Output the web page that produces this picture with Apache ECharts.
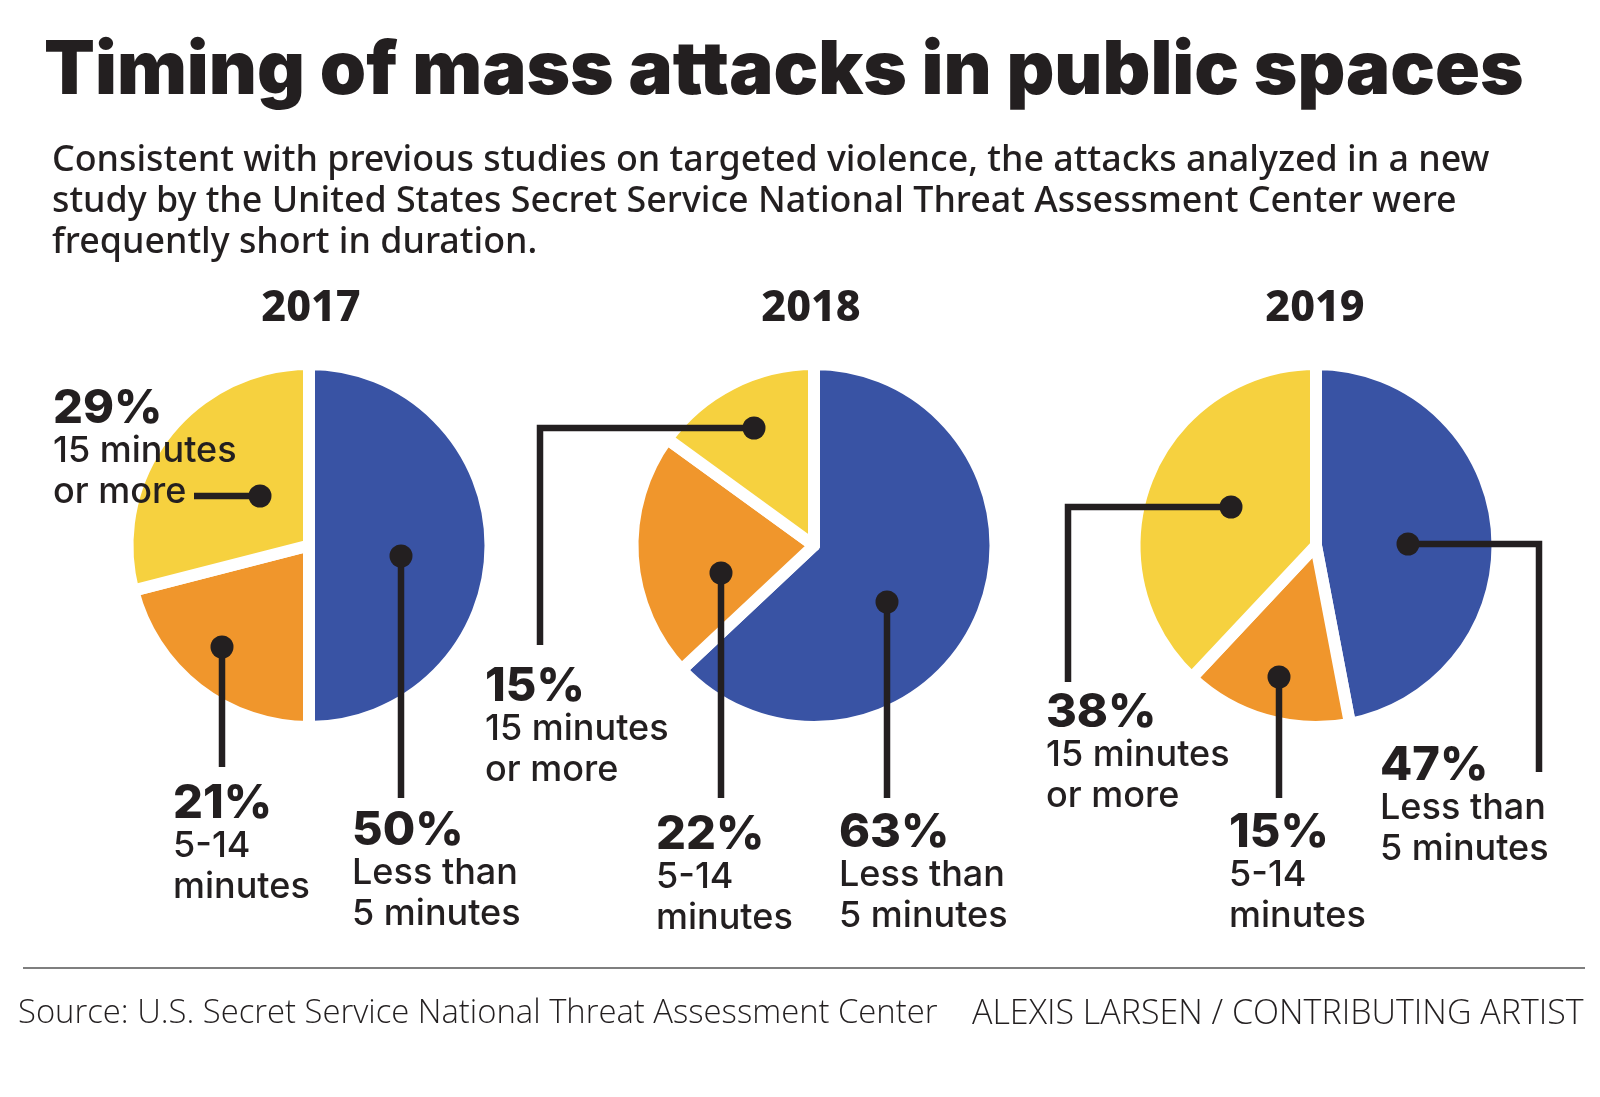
<!DOCTYPE html>
<html>
<head>
<meta charset="utf-8">
<title>Timing of mass attacks in public spaces</title>
<script src="https://cdn.jsdelivr.net/npm/echarts@6/dist/echarts.min.js"></script>
<style>
  html, body { margin: 0; padding: 0; background: #fff; }
  #chart { width: 1600px; height: 1097px; }
</style>
</head>
<body>
<div id="chart"></div>
<script>
// data
var years = ["2017", "2018", "2019"];
var durations = ["Less than\n5 minutes", "5-14\nminutes", "15 minutes\nor more"];
var share_2017 = [50, 21, 29];
var share_2018 = [63, 22, 15];
var share_2019 = [47, 15, 38];
var shares = [share_2017, share_2018, share_2019];

var colors = ["#3953A4", "#F0962C", "#F6D13F"];
var ink = "#231F20";

// where each pie sits
var pie_centers = [[309, 545.5], [814, 545.5], [1316, 545.5]];
var pie_radius = 181.5;
var year_x = [306, 806, 1310];

// top-left of each callout text, same order as the data
var callout_pos = [
  [[352, 809], [173, 782], [53, 387]],
  [[839, 811], [656, 813], [485, 665]],
  [[1380, 744], [1229, 811], [1046, 691]]
];

// leader lines, first point is the dot
var leaders = [
  [[401, 556], [401, 798]],
  [[222, 647], [222, 767]],
  [[260, 496], [194, 496]],
  [[887, 602], [887, 798]],
  [[721, 573], [721, 798]],
  [[754, 428], [540, 428], [540, 645]],
  [[1408, 544], [1539, 544], [1539, 772]],
  [[1279, 677], [1279, 798]],
  [[1231, 507], [1068, 507], [1068, 682]]
];

var chart = echarts.init(document.getElementById('chart'));

function make_pie(i) {
  return {
    type: 'pie',
    center: pie_centers[i],
    radius: [0, pie_radius],
    startAngle: 90,
    silent: true,
    avoidLabelOverlap: false,
    itemStyle: { borderColor: '#fff', borderWidth: 12 },
    labelLine: { show: false },
    label: {
      show: true,
      position: 'outside',
      formatter: function (p) {
        return '{pct|' + p.value + '%}\n' + p.name.split('\n').map(function (s) {
          return '{txt|' + s + '}';
        }).join('\n');
      },
      rich: {
        pct: { fontFamily: 'Inter', fontWeight: 800, fontSize: 47, lineHeight: 43, color: ink },
        txt: { fontFamily: 'Inter', fontWeight: 500, fontSize: 36, lineHeight: 41.5, color: ink }
      }
    },
    labelLayout: function (p) {
      var pos = callout_pos[i][p.dataIndex];
      return { x: pos[0], y: pos[1], align: 'left', verticalAlign: 'top' };
    },
    data: shares[i].map(function (v, k) {
      return { value: v, name: durations[k], itemStyle: { color: colors[k] } };
    })
  };
}

function make_leaders() {
  var items = [];
  leaders.forEach(function (pts) {
    items.push({
      type: 'polyline', z: 20,
      shape: { points: pts },
      style: { stroke: ink, lineWidth: 6.5, fill: null }
    });
    items.push({
      type: 'circle', z: 21,
      shape: { cx: pts[0][0], cy: pts[0][1], r: 11.5 },
      style: { fill: ink }
    });
  });
  // rule above the source line
  items.push({
    type: 'line',
    shape: { x1: 23, y1: 968, x2: 1585, y2: 968 },
    style: { stroke: '#555', lineWidth: 1.5 }
  });
  return items;
}

var titles = [
  {
    text: 'Timing of mass attacks in public spaces',
    left: 39, top: 30,
    textStyle: { fontFamily: 'Inter', fontWeight: 900, fontSize: 74.2, color: ink }
  },
  {
    text: 'Consistent with previous studies on targeted violence, the attacks analyzed in a new\nstudy by the United States Secret Service National Threat Assessment Center were\nfrequently short in duration.',
    left: 47, top: 135,
    textStyle: { fontFamily: 'Noto Sans', fontWeight: 500, fontSize: 35.8, lineHeight: 41, color: ink }
  },
  {
    text: 'Source: U.S. Secret Service National Threat Assessment Center',
    left: 13, top: 992,
    textStyle: { fontFamily: 'Open Sans', fontWeight: 300, fontSize: 32.8, color: ink }
  },
  {
    text: 'ALEXIS LARSEN / CONTRIBUTING ARTIST',
    left: 967, top: 992,
    textStyle: { fontFamily: 'Open Sans', fontWeight: 300, fontSize: 34, color: ink }
  }
];
years.forEach(function (y, i) {
  titles.push({
    text: y,
    left: year_x[i], top: 282,
    textAlign: 'center',
    textStyle: { fontFamily: 'Noto Sans', fontWeight: 800, fontSize: 43, color: ink }
  });
});

chart.setOption({
  animation: false,
  backgroundColor: '#fff',
  title: titles,
  series: years.map(function (y, i) { return make_pie(i); }),
  graphic: { elements: make_leaders() }
});
</script>
</body>
</html>
